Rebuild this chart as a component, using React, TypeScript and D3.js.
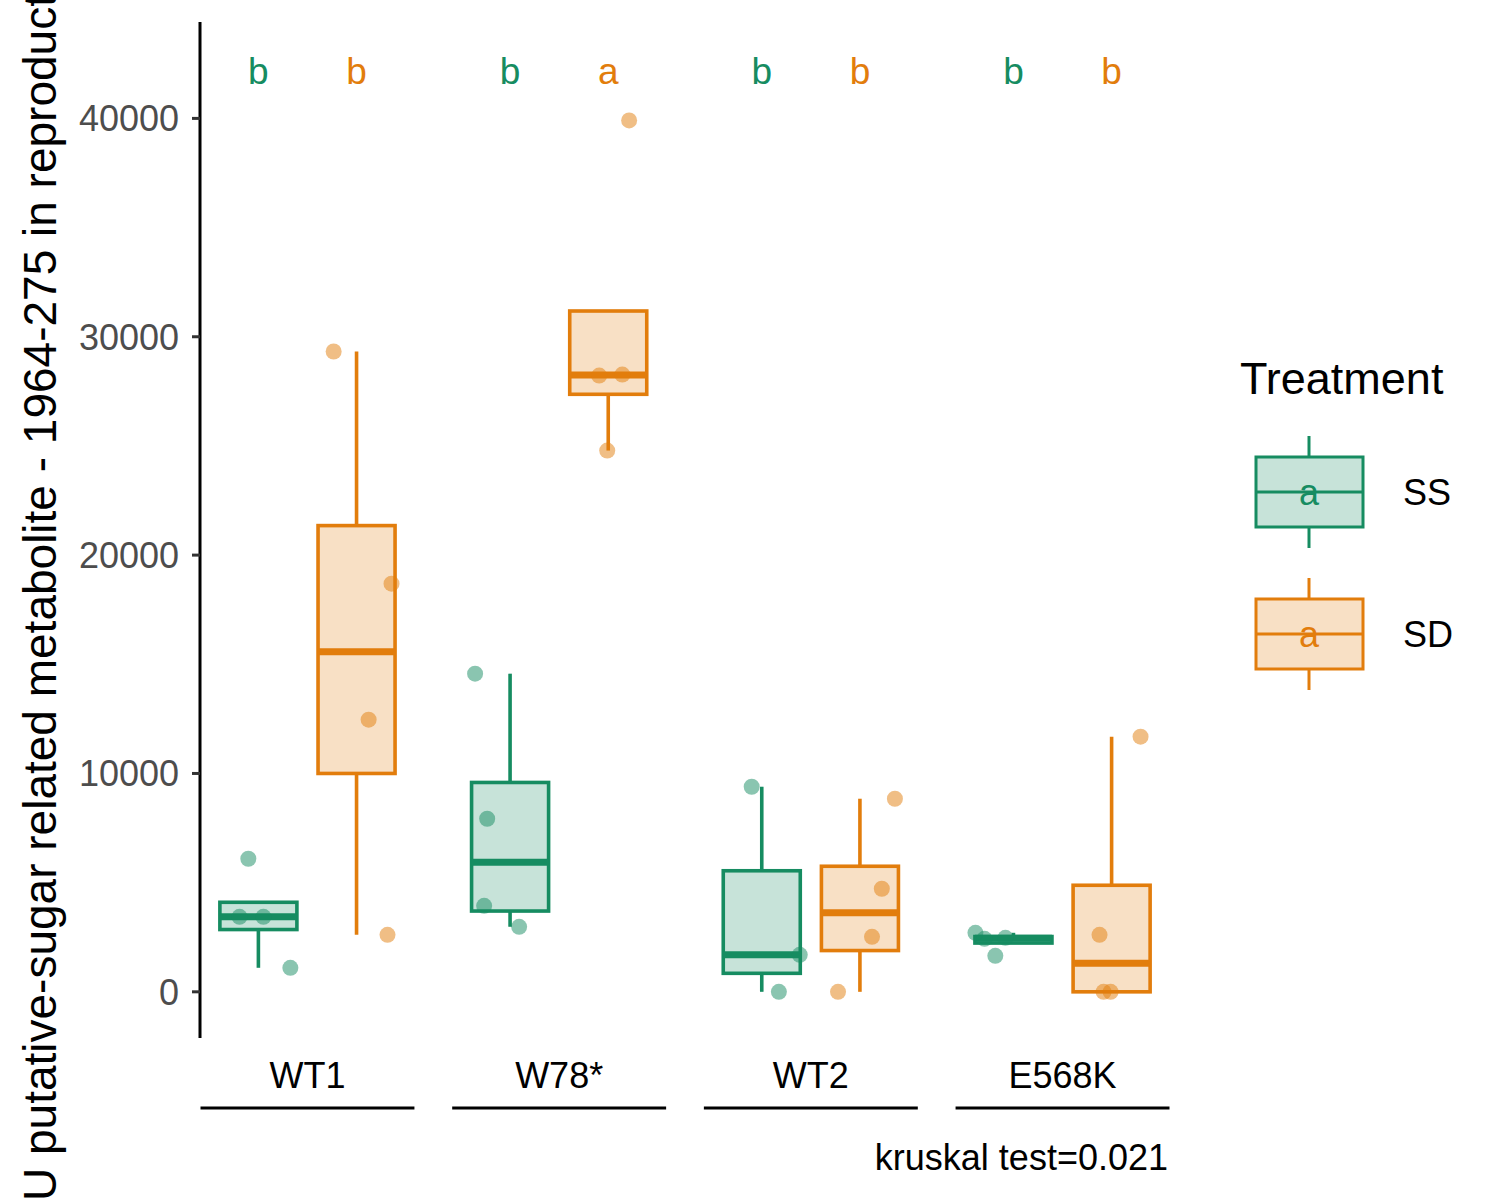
import { useEffect, useRef } from "react"
import * as d3 from "d3"

const groups = ["WT1", "W78*", "WT2", "E568K"]
const treatments = ["SS", "SD"]
const colors = ["#168C61", "#E27D0C"]

// raw values per group
const ssValues = [
    [6094, 3436, 3436, 1100],
    [14570, 7927, 3940, 2978],
    [9393, 1695, 0],
    [2703, 2428, 2474, 1650],
]
const sdValues = [
    [29324, 18694, 12463, 2612],
    [39908, 28224, 28270, 24788],
    [8843, 4719, 2520, 0],
    [11684, 2612, 0, 0],
]
// horizontal jitter of each point, as a fraction of the category step
const ssJitter = [
    [-0.04, -0.075, 0.02, 0.127],
    [-0.139, -0.091, -0.103, 0.036],
    [-0.04, 0.151, 0.068],
    [-0.151, -0.115, -0.032, -0.072],
]
const sdJitter = [
    [-0.091, 0.139, 0.048, 0.123],
    [0.083, -0.036, 0.056, -0.004],
    [0.139, 0.087, 0.048, -0.087],
    [0.115, -0.048, -0.032, -0.004],
]
const ssLetters = ["b", "b", "b", "b"]
const sdLetters = ["b", "a", "b", "b"]
const letterY = 42300
const yTicks = [0, 10000, 20000, 30000, 40000]
const caption = "kruskal test=0.021"
const yTitle = "AU putative-sugar related metabolite - 1964-275 in reproductive tissue"

// same rules as ggplot's stat_boxplot (type 7 quantiles, 1.5 IQR whiskers)
function boxStats(values) {
    const s = [...values].sort(d3.ascending)
    const q1 = d3.quantileSorted(s, 0.25)
    const med = d3.quantileSorted(s, 0.5)
    const q3 = d3.quantileSorted(s, 0.75)
    const iqr = q3 - q1
    const inside = s.filter((v) => v >= q1 - 1.5 * iqr && v <= q3 + 1.5 * iqr)
    const lo = Math.min(q1, d3.min(inside))
    const hi = Math.max(q3, d3.max(inside))
    return { q1, med, q3, lo, hi }
}

export default function App() {
    const svgRef = useRef(null)

    useEffect(() => {
        document.body.style.margin = "0"
        const width = 1500
        const height = 1200
        const font = "'Liberation Sans', Arial, sans-serif"
        const panel = { left: 200, right: 1170, top: 22, bottom: 1038 }

        const root = d3.select(svgRef.current)
        root.selectAll("*").remove()
        const svg = root.attr("width", width).attr("height", height).style("font-family", font)

        const x = d3
            .scalePoint()
            .domain(groups)
            .range([panel.left, panel.right])
            .padding(0.427)
        const step = x.step()
        const dodge = 0.195 * step
        const boxW = 0.306 * step

        const allVals = [...ssValues.flat(), ...sdValues.flat(), letterY]
        const vmin = d3.min(allVals)
        const vmax = d3.max(allVals)
        const pad = (vmax - vmin) * 0.05
        const y = d3
            .scaleLinear()
            .domain([vmin - pad, vmax + pad])
            .range([panel.bottom, panel.top])

        const series = [
            { values: ssValues, jitter: ssJitter, letters: ssLetters, off: -dodge, color: colors[0] },
            { values: sdValues, jitter: sdJitter, letters: sdLetters, off: dodge, color: colors[1] },
        ]

        // y axis
        svg.append("line")
            .attr("x1", panel.left).attr("x2", panel.left)
            .attr("y1", panel.top).attr("y2", panel.bottom)
            .attr("stroke", "black").attr("stroke-width", 3)
        const yt = svg.append("g")
        yt.selectAll("line")
            .data(yTicks)
            .enter()
            .append("line")
            .attr("x1", panel.left - 8).attr("x2", panel.left)
            .attr("y1", (d) => y(d)).attr("y2", (d) => y(d))
            .attr("stroke", "#333333").attr("stroke-width", 3)
        yt.selectAll("text")
            .data(yTicks)
            .enter()
            .append("text")
            .attr("x", panel.left - 21)
            .attr("y", (d) => y(d))
            .attr("dy", "0.36em")
            .attr("text-anchor", "end")
            .attr("font-size", 36)
            .attr("fill", "#4D4D4D")
            .text((d) => d)

        // y title (wider than the plot, so both ends run off the page as in the original)
        svg.append("text")
            .attr("transform", `translate(56,517) rotate(-90)`)
            .attr("text-anchor", "middle")
            .attr("font-size", 46)
            .text(yTitle)

        // boxes
        series.forEach((s) => {
            s.values.forEach((vals, gi) => {
                const st = boxStats(vals)
                const cx = x(groups[gi]) + s.off
                const g = svg.append("g")
                g.append("line")
                    .attr("x1", cx).attr("x2", cx)
                    .attr("y1", y(st.q3)).attr("y2", y(st.hi))
                    .attr("stroke", s.color).attr("stroke-width", 3.6)
                g.append("line")
                    .attr("x1", cx).attr("x2", cx)
                    .attr("y1", y(st.q1)).attr("y2", y(st.lo))
                    .attr("stroke", s.color).attr("stroke-width", 3.6)
                g.append("rect")
                    .attr("x", cx - boxW / 2)
                    .attr("y", y(st.q3))
                    .attr("width", boxW)
                    .attr("height", y(st.q1) - y(st.q3))
                    .attr("fill", s.color).attr("fill-opacity", 0.24)
                    .attr("stroke", s.color).attr("stroke-width", 3.6)
                g.append("line")
                    .attr("x1", cx - boxW / 2).attr("x2", cx + boxW / 2)
                    .attr("y1", y(st.med)).attr("y2", y(st.med))
                    .attr("stroke", s.color).attr("stroke-width", 7)
            })
        })

        // points
        series.forEach((s) => {
            s.values.forEach((vals, gi) => {
                const cx = x(groups[gi]) + s.off
                svg.append("g")
                    .selectAll("circle")
                    .data(vals)
                    .enter()
                    .append("circle")
                    .attr("cx", (d, i) => cx + s.jitter[gi][i] * step)
                    .attr("cy", (d) => y(d))
                    .attr("r", 8)
                    .attr("fill", s.color)
                    .attr("fill-opacity", 0.5)
            })
        })

        // letters
        series.forEach((s) => {
            svg.append("g")
                .selectAll("text")
                .data(s.letters)
                .enter()
                .append("text")
                .attr("x", (d, i) => x(groups[i]) + s.off)
                .attr("y", y(letterY) + 2)
                .attr("dy", "0.36em")
                .attr("text-anchor", "middle")
                .attr("font-size", 37)
                .attr("fill", s.color)
                .text((d) => d)
        })

        // x labels + group lines
        const xg = svg.append("g")
        xg.selectAll("text")
            .data(groups)
            .enter()
            .append("text")
            .attr("x", (d) => x(d))
            .attr("y", 1088)
            .attr("text-anchor", "middle")
            .attr("font-size", 36)
            .text((d) => d)
        xg.selectAll("line")
            .data(groups)
            .enter()
            .append("line")
            .attr("x1", (d) => x(d) - step * 0.425)
            .attr("x2", (d) => x(d) + step * 0.425)
            .attr("y1", 1108).attr("y2", 1108)
            .attr("stroke", "black").attr("stroke-width", 3)

        svg.append("text")
            .attr("x", panel.right - 2)
            .attr("y", 1170)
            .attr("text-anchor", "end")
            .attr("font-size", 36)
            .text(caption)

        // legend
        const lg = svg.append("g")
        lg.append("text")
            .attr("x", 1240).attr("y", 394)
            .attr("font-size", 45)
            .text("Treatment")
        treatments.forEach((t, i) => {
            const cy = 492 + i * 142
            const c = colors[i]
            const k = lg.append("g")
            k.append("line")
                .attr("x1", 1309).attr("x2", 1309)
                .attr("y1", cy - 56).attr("y2", cy + 56)
                .attr("stroke", c).attr("stroke-width", 3)
            k.append("rect")
                .attr("x", 1256).attr("y", cy - 35)
                .attr("width", 107).attr("height", 70)
                .attr("fill", "white")
            k.append("rect")
                .attr("x", 1256).attr("y", cy - 35)
                .attr("width", 107).attr("height", 70)
                .attr("fill", c).attr("fill-opacity", 0.24)
                .attr("stroke", c).attr("stroke-width", 3)
            k.append("line")
                .attr("x1", 1256).attr("x2", 1363)
                .attr("y1", cy).attr("y2", cy)
                .attr("stroke", c).attr("stroke-width", 3)
            k.append("text")
                .attr("x", 1309).attr("y", cy)
                .attr("dy", "0.36em")
                .attr("text-anchor", "middle")
                .attr("font-size", 36)
                .attr("fill", c)
                .text("a")
            k.append("text")
                .attr("x", 1403).attr("y", cy)
                .attr("dy", "0.36em")
                .attr("font-size", 36)
                .text(t)
        })
    }, [])

    return <svg ref={svgRef}></svg>
}
